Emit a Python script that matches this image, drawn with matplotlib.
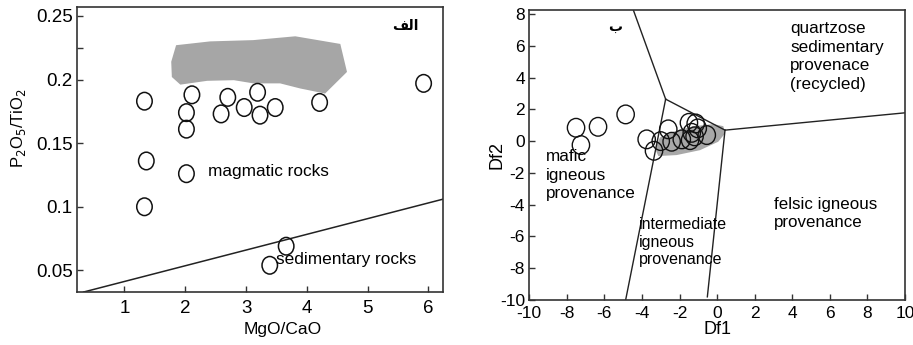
"""Two provenance diagrams side by side: P2O5/TiO2 vs MgO/CaO and Df1-Df2 discriminant plot."""

import matplotlib.pyplot as plt
from matplotlib.path import Path
from matplotlib.transforms import Affine2D

plt.rcParams["font.family"] = ["Liberation Sans", "DejaVu Sans"]
plt.rcParams["font.size"] = 12
plt.rcParams["axes.unicode_minus"] = False  # the original uses plain hyphens

# --- left panel data (MgO/CaO vs P2O5/TiO2) ---
mgo_cao = [1.33, 2.11, 2.70, 3.19, 4.21, 5.92, 2.02, 2.59, 2.97, 3.23, 3.48,
           2.02, 1.36, 2.02, 1.33, 3.66, 3.39]
p2o5_tio2 = [0.183, 0.188, 0.186, 0.190, 0.182, 0.197, 0.174, 0.173, 0.178, 0.172, 0.178,
             0.161, 0.136, 0.126, 0.100, 0.069, 0.054]
field_left_x = [1.85, 2.41, 3.12, 3.81, 4.55, 4.66, 4.30, 3.89, 3.56, 3.12, 2.80, 2.36, 1.92, 1.78, 1.77]
field_left_y = [0.227, 0.230, 0.231, 0.234, 0.228, 0.206, 0.189, 0.193, 0.197, 0.197, 0.1995,
                0.199, 0.196, 0.202, 0.214]
divide_x = [0.33, 6.24]
divide_y = [0.033, 0.106]

# --- right panel data (Df1 vs Df2) ---
df1 = [-7.51, -6.34, -4.87, -7.25, -3.75, -3.36, -3.00, -2.60, -2.42, -1.88,
       -1.50, -1.14, -1.35, -1.03, -1.44, -0.55, -1.20]
df2 = [0.84, 0.90, 1.68, -0.25, 0.11, -0.61, 0.00, 0.74, -0.04, 0.11,
       1.15, 1.11, 0.52, 0.80, 0.06, 0.38, 0.30]
field_right_x = [-3.31, -3.04, -2.33, -1.27, -0.20, 0.33, 0.42, 0.06, -0.91, -2.16, -3.13]
field_right_y = [-0.46, 0.23, 0.59, 0.94, 1.07, 0.94, 0.48, -0.04, -0.57, -0.88, -0.94]
boundaries = [
    ([-4.46, -2.74], [8.25, 2.64]),
    ([-2.74, 0.42], [2.64, 0.69]),
    ([0.42, 10.0], [0.69, 1.78]),
    ([-2.74, -4.87], [2.64, -10.0]),
    ([0.42, -0.52], [0.69, -9.8]),
]

line_col = "#222222"

fig = plt.figure(figsize=(9.13, 3.45), dpi=100)
ax1 = fig.add_axes([0.0843, 0.1536, 0.401, 0.826])
ax2 = fig.add_axes([0.5797, 0.1304, 0.4115, 0.8406])

# left
ax1.fill(field_left_x, field_left_y, color="#a6a6a6", lw=0, zorder=1)
ax1.plot(divide_x, divide_y, color=line_col, lw=1.1, zorder=2)
ax1.scatter(mgo_cao, p2o5_tio2, s=160, marker=Path.unit_circle().transformed(Affine2D().scale(0.88, 1.0)),
            facecolor="none", edgecolor="#111111", linewidth=1.1, zorder=3)
ax1.text(2.37, 0.128, "magmatic rocks", va="center", ha="left", fontsize=12.4)
ax1.text(3.50, 0.0585, "sedimentary rocks", va="center", ha="left", fontsize=12.4)
ax1.text(5.62, 0.242, "\uFED2\uFEDF\uFE8D", va="center", ha="center", fontsize=10,
         fontweight="bold", family=["DejaVu Sans"])
ax1.set_xlim(0.22, 6.24)
ax1.set_ylim(0.033, 0.257)
ax1.set_xticks([1, 2, 3, 4, 5, 6])
ax1.set_yticks([0.05, 0.1, 0.15, 0.2, 0.25])
ax1.set_yticklabels(["0.05", "0.1", "0.15", "0.2", "0.25"])
ax1.set_yticks([0.225], minor=True)
ax1.set_xlabel("MgO/CaO", fontsize=12.5)
ax1.xaxis.set_label_coords(0.563, -0.105)
ax1.set_ylabel("P$_2$O$_5$/TiO$_2$", fontsize=12)
ax1.yaxis.set_label_coords(-0.135, 0.575)

# right
ax2.fill(field_right_x, field_right_y, color="#a8a8a8", lw=0, zorder=1)
for bx, by in boundaries:
    ax2.plot(bx, by, color=line_col, lw=1.0, zorder=2)
ax2.scatter(df1, df2, s=180, marker=Path.unit_circle().transformed(Affine2D().scale(0.93, 1.0)),
            facecolor="none", edgecolor="#111111", linewidth=1.0, zorder=3)
ax2.text(3.88, 7.55, "quartzose\nsedimentary\nprovenace\n(recycled)", va="top", ha="left",
         fontsize=12.3, linespacing=1.3)
ax2.text(-9.11, -0.5, "mafic\nigneous\nprovenance", va="top", ha="left", fontsize=12.3,
         linespacing=1.3)
ax2.text(-4.14, -4.8, "intermediate\nigneous\nprovenance", va="top", ha="left", fontsize=11.5,
         linespacing=1.2)
ax2.text(3.04, -3.5, "felsic igneous\nprovenance", va="top", ha="left", fontsize=12.2,
         linespacing=1.3)
ax2.text(-5.44, 7.2, "ب", va="center", ha="center", fontsize=10, fontweight="bold",
         family=["DejaVu Sans"])
ax2.set_xlim(-10, 10)
ax2.set_ylim(-10, 8.25)
ax2.set_xticks(range(-10, 11, 2))
ax2.set_yticks(range(-10, 9, 2))
ax2.set_xlabel("Df1", fontsize=13, labelpad=0)
ax2.set_ylabel("Df2", fontsize=13)
ax2.yaxis.set_label_coords(-0.062, 0.5)

for ax, lsize in ((ax1, 13.5), (ax2, 12.5)):
    for sp in ax.spines.values():
        sp.set_color("#333333")
        sp.set_linewidth(1.2)
    ax.tick_params(which="both", direction="in", length=4, width=1, color="#333333",
                   labelsize=lsize)
    ax.tick_params(axis="y", pad=3)
ax1.tick_params(axis="x", pad=6)
ax2.tick_params(axis="x", pad=4)

fig.savefig("out.png", dpi=100)
